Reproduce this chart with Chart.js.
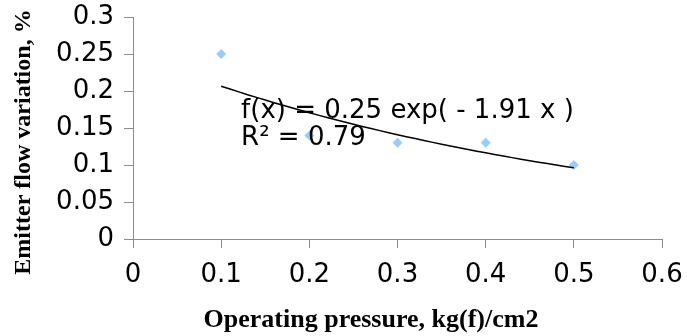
<!DOCTYPE html>
<html>
<head>
<meta charset="utf-8">
<title>Emitter flow variation</title>
<script src="https://cdn.jsdelivr.net/npm/chart.js@4"></script>
<style>
  html, body { margin: 0; padding: 0; background: #fff; }
  #wrap { width: 687px; height: 336px; position: relative; }
</style>
</head>
<body>
<div id="wrap"><canvas id="chart"></canvas></div>
<script>
// measured points
const pressure = [0.1, 0.2, 0.3, 0.4, 0.5]
const flowVariation = [0.25, 0.14, 0.13, 0.13, 0.1]

// exponential trendline f(x) = a * exp(b * x), R² as reported
const fitA = 0.25
const fitB = -1.91
const fitR2 = 0.79
const fitFrom = 0.1
const fitTo = 0.5

const xTitle = "Operating pressure, kg(f)/cm2"
const yTitle = "Emitter flow variation, %"

// trendline sampled along the fitted range
const trendPoints = []
for (let i = 0; i <= 40; i++) {
  const x = fitFrom + (fitTo - fitFrom) * i / 40
  trendPoints.push({ x: x, y: fitA * Math.exp(fitB * x) })
}

const axisGrey = "#8c8c8c"
const tickFont = { family: "DejaVu Sans", size: 26 }

// equation + R² text and both axis titles
const chartText = {
  id: "chartText",
  afterDatasetsDraw(chart) {
    const { ctx, scales, chartArea } = chart
    ctx.save()
    ctx.fillStyle = "#000"
    ctx.font = "26px 'DejaVu Sans'"
    ctx.textAlign = "left"
    ctx.textBaseline = "alphabetic"
    const tx = scales.x.getPixelForValue(0.1226)
    const ty = scales.y.getPixelForValue(0.1637)
    ctx.fillText("f(x) = " + fitA + " exp( - " + Math.abs(fitB) + " x )", tx, ty)
    ctx.fillText("R\u00b2 = " + fitR2, tx, ty + 27)

    // x title sits a bit left of the plot centre
    ctx.font = "bold 26px 'Liberation Serif'"
    ctx.textAlign = "center"
    ctx.fillText(xTitle, chartArea.left + 238, chartArea.bottom + 88)

    ctx.font = "bold 24px 'Liberation Serif'"
    ctx.translate(30, (chartArea.top + chartArea.bottom) / 2 + 14)
    ctx.rotate(-Math.PI / 2)
    ctx.fillText(yTitle, 0, 0)
    ctx.restore()
  },
}

new Chart(document.getElementById("chart").getContext("2d"), {
  type: "scatter",
  data: {
    datasets: [
      {
        label: "Emitter flow variation",
        data: pressure.map((p, i) => ({ x: p, y: flowVariation[i] })),
        pointStyle: "rectRot",
        pointRadius: 5,
        pointBackgroundColor: "#99ccff",
        pointBorderColor: "#99ccff",
        pointBorderWidth: 0,
        showLine: false,
        order: 2,
      },
      {
        type: "line",
        label: "Exponential fit",
        data: trendPoints,
        borderColor: "#000",
        borderWidth: 1.5,
        pointRadius: 0,
        fill: false,
        tension: 0,
        order: 1,
      },
    ],
  },
  options: {
    responsive: true,
    maintainAspectRatio: false,
    animation: false,
    events: [],
    layout: { padding: { top: 17, right: 25, left: 0, bottom: 0 } },
    plugins: {
      legend: { display: false },
      tooltip: { enabled: false },
    },
    scales: {
      x: {
        type: "linear",
        min: 0,
        max: 0.6,
        afterFit: scale => {
          scale.height = 97
          scale.paddingLeft = 0
          scale.paddingRight = 0
        },
        ticks: {
          stepSize: 0.1,
          padding: 12,
          color: "#000",
          font: tickFont,
          callback: v => Number(v.toFixed(2)).toString(),
        },
        grid: {
          drawOnChartArea: false,
          drawTicks: true,
          tickLength: 9,
          tickColor: axisGrey,
        },
        border: { display: true, color: axisGrey, width: 1 },
      },
      y: {
        type: "linear",
        min: 0,
        max: 0.3,
        afterFit: scale => {
          scale.width = 133
          scale.paddingTop = 0
          scale.paddingBottom = 0
        },
        ticks: {
          stepSize: 0.05,
          padding: 10,
          color: "#000",
          font: tickFont,
          callback: v => Number(v.toFixed(2)).toString(),
        },
        grid: {
          drawOnChartArea: false,
          drawTicks: true,
          tickLength: 9,
          tickColor: axisGrey,
        },
        border: { display: true, color: axisGrey, width: 1 },
      },
    },
  },
  plugins: [chartText],
})
</script>
</body>
</html>
